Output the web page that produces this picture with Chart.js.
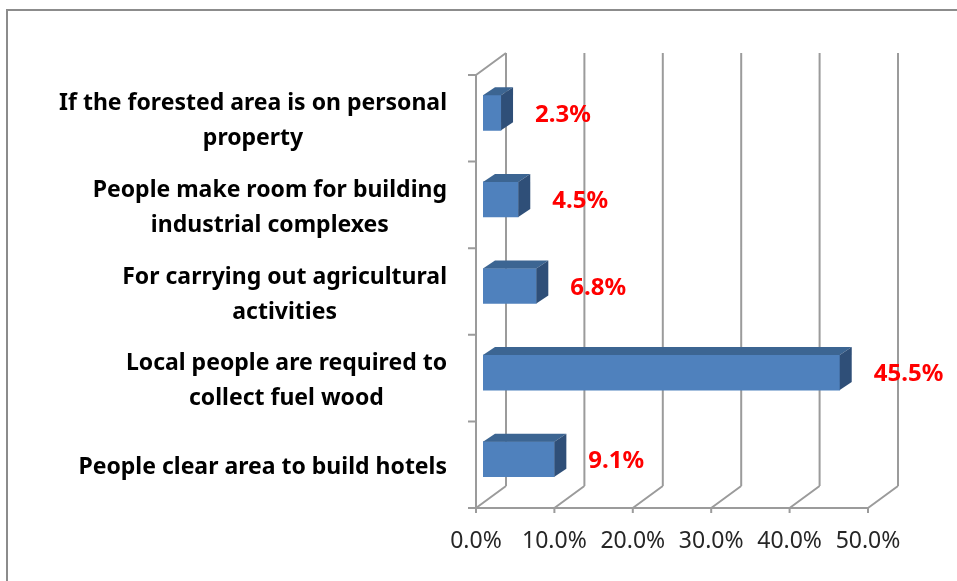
<!DOCTYPE html>
<html>
<head>
<meta charset="utf-8">
<script src="https://cdn.jsdelivr.net/npm/chart.js@4.4.0/dist/chart.umd.min.js"></script>
<style>
  html, body { margin: 0; padding: 0; background: #fff; }
  #wrap { position: relative; width: 957px; height: 581px; overflow: hidden; }
  #frame { position: absolute; left: 6px; top: 9px; width: 1000px; height: 700px;
           border-top: 2px solid #8c8c8c; border-left: 2px solid #8c8c8c; }
  canvas { position: absolute; left: 0; top: 0; }
</style>
</head>
<body>
<div id="wrap">
  <div id="frame"></div>
  <canvas id="chart" width="957" height="581"></canvas>
</div>
<script>
// categories, top to bottom (each entry split into its printed lines)
const categories = [
    ['If the forested area is on personal', 'property'],
    ['People make room for building', 'industrial complexes'],
    ['For carrying out agricultural', 'activities'],
    ['Local people are required to', 'collect fuel wood'],
    ['People clear area to build hotels']
];
const shares = [2.3, 4.5, 6.8, 45.5, 9.1];
const axisMin = 0;
const axisMax = 50;
const axisStep = 10;

// 3D look
const DEPTH_X = 30, DEPTH_Y = 22;      // wall depth
const BAR_SHIFT_X = 7, BAR_SHIFT_Y = -5.5;  // bars sit a bit behind the front plane
const BAR_DX = 12, BAR_DY = 8;         // bar depth
const GRID = '#9b9b9b';
const FONT = '"Noto Sans"';

const threeD = {
    id: 'threeD',
    beforeDatasetsDraw(chart) {
        const { ctx, chartArea: a, scales: { x } } = chart;
        ctx.save();
        ctx.strokeStyle = GRID;
        ctx.lineWidth = 2;
        ctx.beginPath();
        for (let v = axisMin; v <= axisMax; v += axisStep) {
            const px = x.getPixelForValue(v);
            // back wall line
            ctx.moveTo(px + DEPTH_X, a.top - DEPTH_Y);
            ctx.lineTo(px + DEPTH_X, a.bottom - DEPTH_Y);
            // floor diagonal
            ctx.moveTo(px, a.bottom);
            ctx.lineTo(px + DEPTH_X, a.bottom - DEPTH_Y);
            // tick mark
            ctx.moveTo(px, a.bottom);
            ctx.lineTo(px, a.bottom + 5);
        }
        // left wall edge
        ctx.moveTo(a.left, a.top);
        ctx.lineTo(a.left + DEPTH_X, a.top - DEPTH_Y);
        ctx.moveTo(a.left, a.top);
        ctx.lineTo(a.left, a.bottom);
        ctx.lineTo(a.right, a.bottom);
        // category tick marks
        const n = categories.length;
        for (let i = 0; i <= n; i++) {
            const py = a.top + (a.bottom - a.top) * i / n;
            ctx.moveTo(a.left - 8, py);
            ctx.lineTo(a.left, py);
        }
        ctx.stroke();
        ctx.restore();

        ctx.save();
        ctx.translate(BAR_SHIFT_X, BAR_SHIFT_Y);
    },
    afterDatasetsDraw(chart) {
        const { ctx } = chart;
        chart.getDatasetMeta(0).data.forEach(bar => {
            const { x, y, base, height } = bar.getProps(['x', 'y', 'base', 'height'], true);
            const top = y - height / 2, bot = y + height / 2;
            // top face
            ctx.fillStyle = '#3c6592';
            ctx.beginPath();
            ctx.moveTo(base, top);
            ctx.lineTo(base + BAR_DX, top - BAR_DY);
            ctx.lineTo(x + BAR_DX, top - BAR_DY);
            ctx.lineTo(x, top);
            ctx.closePath();
            ctx.fill();
            // end face
            ctx.fillStyle = '#2f4f78';
            ctx.beginPath();
            ctx.moveTo(x, top);
            ctx.lineTo(x + BAR_DX, top - BAR_DY);
            ctx.lineTo(x + BAR_DX, bot - BAR_DY);
            ctx.lineTo(x, bot);
            ctx.closePath();
            ctx.fill();
        });
        // value labels
        ctx.fillStyle = '#ff0000';
        ctx.font = 'bold 24px ' + FONT;
        ctx.textAlign = 'left';
        ctx.textBaseline = 'middle';
        chart.getDatasetMeta(0).data.forEach((bar, i) => {
            ctx.fillText(shares[i].toFixed(1) + '%', bar.x + BAR_DX + 22, bar.y + 2);
        });
        ctx.restore();
    },
    afterDraw(chart) {
        const { ctx, scales: { y } } = chart;
        ctx.save();
        ctx.fillStyle = '#000';
        // size the label font so the widest line spans the same room as in the original
        ctx.font = 'bold 22px ' + FONT;
        const widest = Math.max(...categories.flat().map(l => ctx.measureText(l).width));
        const size = Math.min(24, 22 * 388 / widest);
        ctx.font = `bold ${size.toFixed(1)}px ${FONT}`;
        ctx.textAlign = 'center';
        ctx.textBaseline = 'middle';
        const right = 447, lh = 35;
        categories.forEach((lines, i) => {
            const w = Math.max(...lines.map(l => ctx.measureText(l).width));
            const cx = right - w / 2;
            const cy = y.getPixelForValue(i) + 3;
            lines.forEach((l, k) => {
                ctx.fillText(l, cx, cy + (k - (lines.length - 1) / 2) * lh);
            });
        });
        ctx.restore();
    }
};

new Chart(document.getElementById('chart').getContext('2d'), {
    type: 'bar',
    data: {
        labels: categories,
        datasets: [{
            data: shares,
            backgroundColor: '#4f81bd',
            borderWidth: 0,
            barThickness: 35
        }]
    },
    options: {
        indexAxis: 'y',
        responsive: false,
        animation: false,
        layout: { padding: { left: 476, right: 89, top: 75, bottom: 0 } },
        plugins: { legend: { display: false }, tooltip: { enabled: false } },
        scales: {
            x: {
                min: axisMin, max: axisMax,
                ticks: {
                    stepSize: axisStep,
                    color: '#262626',
                    font: { family: FONT, size: 23 },
                    padding: 12,
                    callback: v => v.toFixed(1) + '%'
                },
                grid: { display: false },
                border: { display: false },
                afterFit: s => { s.height = 73; }
            },
            y: { display: false }
        }
    },
    plugins: [threeD]
});
</script>
</body>
</html>
